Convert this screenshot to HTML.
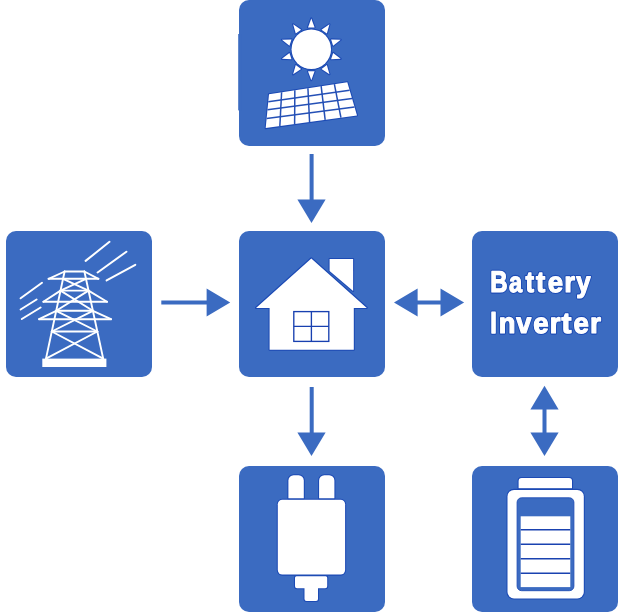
<!DOCTYPE html>
<html><head><meta charset="utf-8"><title>Energy flow diagram</title>
<style>html,body{margin:0;padding:0;background:#fff;}body{width:621px;height:612px;overflow:hidden;font-family:"Liberation Sans",sans-serif;}svg{display:block;}.h{stroke:#1C4AB4;stroke-width:2.1;paint-order:stroke;stroke-linejoin:round}.tb{stroke:#1C4AB4;stroke-width:3.3;stroke-linejoin:round}.tf{stroke:#fff;stroke-width:1.2;stroke-linejoin:round}text{font-family:"Liberation Sans",sans-serif;font-weight:bold;fill:#fff;text-rendering:geometricPrecision;}</style>
</head><body>
<svg width="621" height="612" viewBox="0 0 621 612">
<rect width="621" height="612" fill="#fff"/>
<g fill="#3B6BC1">
<rect x="239" y="0" width="146" height="146" rx="10" ry="10"/>
<rect x="6" y="231" width="146" height="146" rx="10" ry="10"/>
<rect x="239" y="231" width="146" height="146" rx="10" ry="10"/>
<rect x="472" y="231" width="146" height="146" rx="10" ry="10"/>
<rect x="239" y="466" width="146" height="146" rx="10" ry="10"/>
<rect x="472" y="466" width="146" height="146" rx="10" ry="10"/>
<rect x="238.2" y="34" width="3" height="76.4"/>
<rect x="309.6" y="154" width="4" height="46"/>
<polygon points="297.4,199.4 325.6,199.4 311.5,223"/>
<rect x="309.7" y="387" width="4" height="46"/>
<polygon points="297.4,432.4 325.6,432.4 311.5,456"/>
<rect x="161.3" y="300.5" width="46" height="4"/>
<polygon points="206.6,288.4 206.6,316.4 230.2,302.4"/>
<rect x="417" y="300.5" width="24" height="4"/>
<polygon points="417.6,288.4 417.6,316.4 394,302.4"/>
<polygon points="440.5,288.4 440.5,316.4 464.1,302.4"/>
<rect x="542.5" y="409" width="4" height="24"/>
<polygon points="530.4,409.4 558.6,409.4 544.5,385.8"/>
<polygon points="530.4,432.4 558.6,432.4 544.5,456"/>
</g>
<g fill="#fff" class="h">
<circle cx="311.3" cy="49.3" r="19.75"/>
<polygon points="314.60,27.40 308.00,27.40 311.30,18.40"/>
<polygon points="326.84,33.52 321.50,29.64 329.46,24.30"/>
<polygon points="333.15,45.67 331.11,39.39 340.69,39.75"/>
<polygon points="331.11,59.21 333.15,52.93 340.69,58.85"/>
<polygon points="321.50,68.96 326.84,65.08 329.46,74.30"/>
<polygon points="308.00,71.20 314.60,71.20 311.30,80.20"/>
<polygon points="295.76,65.08 301.10,68.96 293.14,74.30"/>
<polygon points="289.45,52.93 291.49,59.21 281.91,58.85"/>
<polygon points="291.49,39.39 289.45,45.67 281.91,39.75"/>
<polygon points="301.10,29.64 295.76,33.52 293.14,24.30"/>
<polygon points="269,94.2 347.3,82.2 357,115.4 265.7,128.1"/>
</g>
<g stroke="#2450B6" stroke-width="1.5" fill="none">
<line x1="281.61" y1="92.27" x2="279.85" y2="126.13"/>
<line x1="294.84" y1="90.24" x2="294.63" y2="124.08"/>
<line x1="307.92" y1="88.24" x2="309.58" y2="122.00"/>
<line x1="321.15" y1="86.21" x2="325.17" y2="119.83"/>
<line x1="334.38" y1="84.18" x2="340.93" y2="117.64"/>
<line x1="268.26" y1="101.83" x2="349.63" y2="90.17"/>
<line x1="267.48" y1="109.79" x2="352.05" y2="98.47"/>
<line x1="266.62" y1="118.61" x2="354.53" y2="106.93"/>
</g>
<g stroke="#fff" stroke-width="1.9" fill="none" stroke-linecap="round" stroke-linejoin="round">
<line x1="64.60" y1="271.50" x2="46.00" y2="358.60"/>
<line x1="84.40" y1="271.50" x2="103.20" y2="358.60"/>
<line x1="64.60" y1="271.50" x2="84.40" y2="271.50"/>
<line x1="48.60" y1="278.80" x2="98.40" y2="278.80"/>
<line x1="64.60" y1="271.50" x2="48.60" y2="278.80"/>
<line x1="84.40" y1="271.50" x2="98.40" y2="278.80"/>
<line x1="63.04" y1="278.80" x2="88.52" y2="290.60"/>
<line x1="85.98" y1="278.80" x2="60.52" y2="290.60"/>
<line x1="60.52" y1="290.60" x2="88.52" y2="290.60"/>
<line x1="43.40" y1="301.80" x2="107.00" y2="301.80"/>
<line x1="43.40" y1="301.80" x2="60.52" y2="290.60"/>
<line x1="107.00" y1="301.80" x2="88.52" y2="290.60"/>
<line x1="60.52" y1="290.60" x2="92.88" y2="310.80"/>
<line x1="88.52" y1="290.60" x2="56.21" y2="310.80"/>
<line x1="56.21" y1="310.80" x2="92.88" y2="310.80"/>
<line x1="39.10" y1="319.20" x2="111.00" y2="319.20"/>
<line x1="39.10" y1="319.20" x2="56.21" y2="310.80"/>
<line x1="111.00" y1="319.20" x2="92.88" y2="310.80"/>
<line x1="56.21" y1="310.80" x2="97.35" y2="331.50"/>
<line x1="92.88" y1="310.80" x2="51.79" y2="331.50"/>
<line x1="51.79" y1="331.50" x2="97.35" y2="331.50"/>
<line x1="51.79" y1="331.50" x2="103.20" y2="358.60"/>
<line x1="97.35" y1="331.50" x2="46.00" y2="358.60"/>
</g>
<rect x="42.3" y="358.6" width="64.1" height="8.4" fill="#fff"/>
<g stroke="#fff" stroke-width="2" stroke-linecap="round">
<line x1="85.60" y1="260.90" x2="109.50" y2="241.80"/>
<line x1="97.60" y1="272.50" x2="126.40" y2="251.70"/>
<line x1="106.60" y1="280.40" x2="135.30" y2="264.80"/>
<line x1="20.60" y1="298.30" x2="42.00" y2="282.80"/>
<line x1="20.60" y1="309.50" x2="36.60" y2="299.50"/>
<line x1="21.80" y1="319.00" x2="40.60" y2="307.50"/>
</g>
<g fill="#fff" class="h">
<polygon points="311.3,258.4 366.8,307.9 353.8,307.9 353.8,349.8 269.6,349.8 269.6,307.9 256,307.9"/>
<polygon points="329.6,259 353.1,259 353.1,291.0 329.6,271.0"/>
</g>
<g stroke="#1840B0" stroke-width="1.35" fill="none">
<rect x="293.8" y="311.6" width="35" height="29.8"/>
<line x1="311.40" y1="311.60" x2="311.40" y2="341.40"/>
<line x1="293.80" y1="326.40" x2="328.80" y2="326.40"/>
</g>
<g fill="#fff" class="h">
<rect x="277.8" y="499.8" width="67.3" height="74.8" rx="4.5"/>
<path d="M288.4,498.2 V480.4 a5.2,5.2 0 0 1 5.2,-5.2 h5 a5.2,5.2 0 0 1 5.2,5.2 V498.2 Z"/>
<path d="M319.1,498.2 V480.4 a5.2,5.2 0 0 1 5.2,-5.2 h4.9 a5.2,5.2 0 0 1 5.2,5.2 V498.2 Z"/>
<path d="M296.5,576.3 H325.7 a1.5,1.5 0 0 1 1.5,1.5 V586.2 a2,2 0 0 1 -2,2 H318 V599 a2,2 0 0 1 -2,2 H306.5 a2,2 0 0 1 -2,-2 V588.2 H297 a2,2 0 0 1 -2,-2 V577.8 a1.5,1.5 0 0 1 1.5,-1.5 Z"/>
</g>
<g fill="#fff" class="h">
<path d="M518.6,488.2 V481 a3,3 0 0 1 3,-3 H569 a3,3 0 0 1 3,3 V488.2 Z"/>
<rect x="507.5" y="489.9" width="76.3" height="108.5" rx="6.5"/>
</g>
<rect x="517.1" y="497.8" width="56.8" height="92.9" rx="4.5" fill="#3B6BC1" stroke="#204EB6" stroke-width="0.9"/>
<rect x="520.7" y="516.3" width="49.6" height="70.8" fill="#fff"/>
<g stroke="#1A42B0" stroke-width="1.4">
<line x1="520.70" y1="529.80" x2="570.30" y2="529.80"/>
<line x1="520.70" y1="544.30" x2="570.30" y2="544.30"/>
<line x1="520.70" y1="558.80" x2="570.30" y2="558.80"/>
<line x1="520.70" y1="573.30" x2="570.30" y2="573.30"/>
</g>
<defs><filter id="idf" x="0" y="0" width="100%" height="100%" filterUnits="userSpaceOnUse" color-interpolation-filters="sRGB"><feOffset dx="0" dy="0"/></filter></defs>
<g filter="url(#idf)">
<text class="tb" transform="translate(490.30,292.40) scale(0.8276,1.033)" font-size="29">B</text>
<text class="tb" transform="translate(509.03,292.40) scale(0.8134,0.995)" font-size="29">a</text>
<text class="tb" transform="translate(525.60,292.40) scale(0.8828,1.010)" font-size="29">t</text>
<text class="tb" transform="translate(536.00,292.40) scale(0.9563,1.010)" font-size="29">t</text>
<text class="tb" transform="translate(547.64,292.40) scale(0.9517,0.995)" font-size="29">e</text>
<text class="tb" transform="translate(564.28,292.40) scale(0.9490,0.995)" font-size="29">r</text>
<text class="tb" transform="translate(576.30,292.40) scale(0.8889,1.000)" font-size="29">y</text>
<text class="tb" transform="translate(490.32,332.90) scale(0.8166,1.045)" font-size="29">I</text>
<text class="tb" transform="translate(498.69,332.90) scale(0.9448,0.995)" font-size="29">n</text>
<text class="tb" transform="translate(516.30,332.90) scale(0.9318,1.000)" font-size="29">v</text>
<text class="tb" transform="translate(533.14,332.90) scale(0.9517,0.995)" font-size="29">e</text>
<text class="tb" transform="translate(549.78,332.90) scale(0.9490,0.995)" font-size="29">r</text>
<text class="tb" transform="translate(561.60,332.90) scale(1.0299,1.010)" font-size="29">t</text>
<text class="tb" transform="translate(573.44,332.90) scale(0.9517,0.995)" font-size="29">e</text>
<text class="tb" transform="translate(590.04,332.90) scale(0.9710,0.995)" font-size="29">r</text>
<text class="tf" transform="translate(490.30,292.40) scale(0.8276,1.033)" font-size="29">B</text>
<text class="tf" transform="translate(509.03,292.40) scale(0.8134,0.995)" font-size="29">a</text>
<text class="tf" transform="translate(525.60,292.40) scale(0.8828,1.010)" font-size="29">t</text>
<text class="tf" transform="translate(536.00,292.40) scale(0.9563,1.010)" font-size="29">t</text>
<text class="tf" transform="translate(547.64,292.40) scale(0.9517,0.995)" font-size="29">e</text>
<text class="tf" transform="translate(564.28,292.40) scale(0.9490,0.995)" font-size="29">r</text>
<text class="tf" transform="translate(576.30,292.40) scale(0.8889,1.000)" font-size="29">y</text>
<text class="tf" transform="translate(490.32,332.90) scale(0.8166,1.045)" font-size="29">I</text>
<text class="tf" transform="translate(498.69,332.90) scale(0.9448,0.995)" font-size="29">n</text>
<text class="tf" transform="translate(516.30,332.90) scale(0.9318,1.000)" font-size="29">v</text>
<text class="tf" transform="translate(533.14,332.90) scale(0.9517,0.995)" font-size="29">e</text>
<text class="tf" transform="translate(549.78,332.90) scale(0.9490,0.995)" font-size="29">r</text>
<text class="tf" transform="translate(561.60,332.90) scale(1.0299,1.010)" font-size="29">t</text>
<text class="tf" transform="translate(573.44,332.90) scale(0.9517,0.995)" font-size="29">e</text>
<text class="tf" transform="translate(590.04,332.90) scale(0.9710,0.995)" font-size="29">r</text>
</g>
</svg></body></html>
